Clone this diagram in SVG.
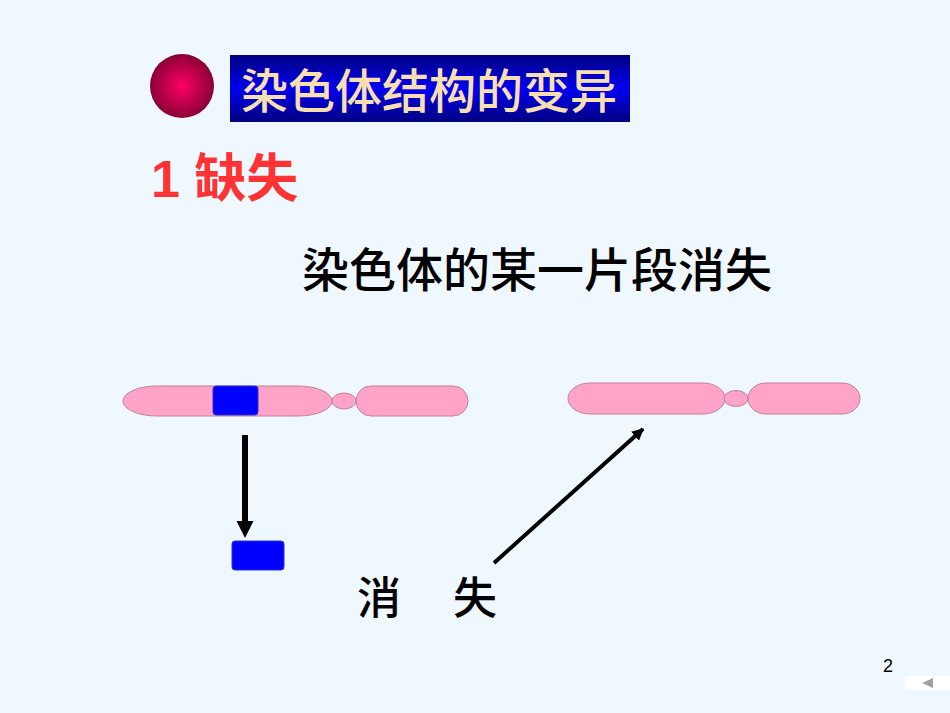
<svg xmlns="http://www.w3.org/2000/svg" width="950" height="713" viewBox="0 0 950 713">
<style>
.cjk{font-family:"Liberation Sans","Noto Sans CJK SC",sans-serif;}
.chr{fill:#FFA3C8;stroke:#C08098;stroke-width:1;}
.blk{fill:#0000FF;stroke:#3333CC;stroke-width:1;}
.conn{stroke:#000;fill:none;}
</style>
<defs>
<linearGradient id="tbg" x1="0" y1="0" x2="0" y2="1">
<stop offset="0" stop-color="#000080"/>
<stop offset="0.5" stop-color="#0000F0"/>
<stop offset="1" stop-color="#000080"/>
</linearGradient>
<radialGradient id="ball" cx="0.5" cy="0.5" r="0.5">
<stop offset="0" stop-color="#FF0066"/>
<stop offset="1" stop-color="#8A0035"/>
</radialGradient>
<marker id="ah" viewBox="0 0 10 10" refX="9" refY="5" markerWidth="3" markerHeight="3" orient="auto" markerUnits="strokeWidth">
<path d="M0,0 L10,5 L0,10 z" fill="#000"/>
</marker>
</defs>
<rect width="950" height="713" fill="#F0F8FF"/>
<g id="title">
<circle cx="182" cy="86" r="32" fill="url(#ball)"/>
<rect x="230" y="55" width="400" height="67" fill="url(#tbg)"/>
<text class="cjk" x="241" y="108" font-size="47" font-weight="500" fill="#F8DFB0">染色体结构的变异</text>
</g>
<g id="heading">
<text class="cjk" x="151" y="197" font-size="52" font-weight="bold" fill="#FF3333">1 缺失</text>
</g>
<g id="subtitle">
<text class="cjk" x="302" y="287" font-size="47" font-weight="500" fill="#000">染色体的某一片段消失</text>
</g>
<g id="chromosome1">
<rect class="chr" x="123" y="386" width="209" height="30" rx="34" ry="15"/>
<ellipse class="chr" cx="344" cy="401" rx="12" ry="8"/>
<rect class="chr" x="356" y="386" width="112" height="30" rx="15" ry="15"/>
<rect class="blk" x="213" y="386" width="45" height="29" rx="3"/>
</g>
<g id="fragment">
<rect class="blk" x="232" y="541" width="52" height="29" rx="3"/>
</g>
<g id="chromosome2">
<rect class="chr" x="568" y="383" width="157" height="31" rx="22" ry="15.5"/>
<ellipse class="chr" cx="736" cy="398.5" rx="12" ry="8"/>
<rect class="chr" x="748" y="383" width="112" height="31" rx="18" ry="15.5"/>
</g>
<g id="label">
<text class="cjk" x="357" y="614" font-size="44" font-weight="500" letter-spacing="4" fill="#000">消　失</text>
</g>
<g id="connectors">
<line class="conn" x1="245" y1="435" x2="245" y2="522" stroke-width="6"/>
<path d="M236.5,521 L253.5,521 L245,538 z" fill="#000"/>
<line class="conn" x1="494" y1="563" x2="643" y2="429" stroke-width="4" marker-end="url(#ah)"/>
</g>
<g id="footer">
<text x="883" y="672" font-family="Liberation Sans,sans-serif" font-size="18" fill="#000">2</text>
<rect x="905" y="676" width="45" height="14" fill="#FFFFFF"/>
<path d="M922,683 L933,678 L933,688 z" fill="#A0A0A0"/>
</g>
</svg>
